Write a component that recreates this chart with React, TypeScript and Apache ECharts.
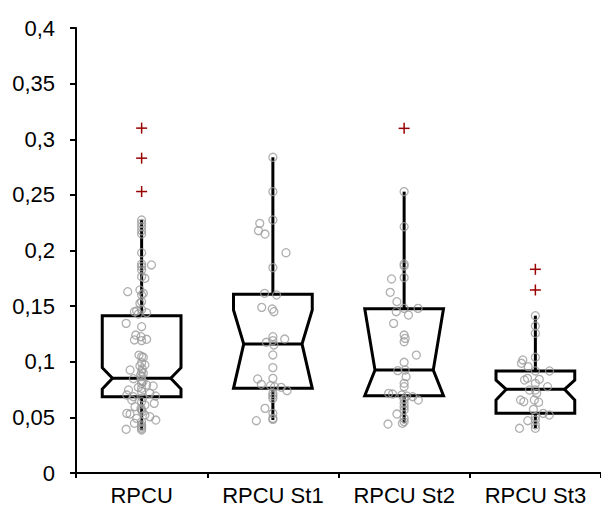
import React, { useEffect, useRef } from "react";
import * as echarts from "echarts";

// Groups on the x axis
const categories = ["RPCU", "RPCU St1", "RPCU St2", "RPCU St3"];

// Notched box statistics per group
const lowWhisker = [0.0387, 0.0476, 0.0447, 0.0402];
const q1 = [0.0686, 0.0761, 0.0695, 0.0537];
const notchLow = [0.0755, 0.0761, 0.0695, 0.0656];
const median = [0.0851, 0.116, 0.0926, 0.0752];
const notchHigh = [0.0946, 0.1465, 0.1477, 0.0836];
const q3 = [0.1414, 0.1606, 0.1477, 0.0917];
const highWhisker = [0.2274, 0.2838, 0.2529, 0.1414];

// Outliers (group index, value)
const outlierGroup = [0, 0, 0, 2, 3, 3];
const outlierValues = [0.31, 0.283, 0.253, 0.3098, 0.1831, 0.1645];

// Individual observations and their horizontal jitter (category units)
const rpcuValues = [
  0.2274, 0.2244, 0.2214, 0.2178, 0.2148, 0.198, 0.1879, 0.1855, 0.187, 0.1825,
  0.1765, 0.175, 0.1645, 0.163, 0.1615, 0.16, 0.154, 0.1525, 0.147, 0.1456,
  0.145, 0.1441, 0.1429, 0.1345, 0.1315, 0.124, 0.1225, 0.1202, 0.1196, 0.119,
  0.106, 0.1046, 0.104, 0.0992, 0.0971, 0.0962, 0.0926, 0.0911, 0.0896, 0.0866,
  0.0848, 0.083, 0.0806, 0.0791, 0.0782, 0.077, 0.0746, 0.0731, 0.0716, 0.0701,
  0.0692, 0.0686, 0.0656, 0.0641, 0.0626, 0.0611, 0.0596, 0.0566, 0.0536, 0.053,
  0.0521, 0.0506, 0.0491, 0.0476, 0.0461, 0.0447, 0.0431, 0.0401, 0.0393, 0.0387,
  0.0936, 0.0881, 0.0821, 0.0761, 0.0676, 0.0581, 0.0551, 0.0416,
];
const rpcuJitter = [
  0, 0, 0, 0, 0, 0, 0, 0, 0.075, 0,
  0, 0.025, -0.013, -0.106, 0.013, 0, 0, -0.013, 0, -0.038,
  -0.055, 0.038, -0.025, -0.118, 0, -0.045, -0.005, 0.038, -0.055, 0,
  -0.02, 0, 0.013, 0, 0.025, -0.013, -0.088, 0, 0.013, 0,
  -0.063, 0, 0, 0.038, 0.088, -0.025, -0.1, 0, 0.063, -0.113,
  0.106, -0.063, -0.075, 0, 0.096, 0.025, -0.05, 0, -0.113, -0.088,
  0.025, 0.063, -0.038, 0.108, 0, -0.055, 0, 0, -0.118, 0,
  0.005, -0.008, 0.01, 0, 0.008, -0.005, 0.005, 0,
];

const st1Values = [
  0.2838, 0.2529, 0.2274, 0.2244, 0.2178, 0.2148, 0.198, 0.1846, 0.1615, 0.16,
  0.1489, 0.1474, 0.145, 0.1225, 0.1204, 0.119, 0.1175, 0.1151, 0.1061, 0.0947,
  0.0851, 0.0845, 0.0797, 0.0785, 0.0776, 0.077, 0.074, 0.0716, 0.0695, 0.0671,
  0.0581, 0.0536, 0.0491, 0.047, 0.0482,
];
const st1Jitter = [
  0, 0, 0, -0.1, -0.11, -0.06, 0.1, 0, -0.063, 0.028,
  -0.085, -0.005, 0.008, 0, 0.09, 0, -0.05, 0.008, 0, 0,
  0, -0.116, -0.088, -0.018, 0.013, 0.063, 0.108, 0, 0, 0,
  -0.06, 0, 0, -0.126, 0,
];

const st2Values = [
  0.2529, 0.2214, 0.1879, 0.1861, 0.1756, 0.1744, 0.1624, 0.154, 0.148, 0.148,
  0.145, 0.142, 0.1345, 0.124, 0.121, 0.118, 0.106, 0.0995, 0.092, 0.0926,
  0.0866, 0.0806, 0.0776, 0.0716, 0.071, 0.0701, 0.0692, 0.0686, 0.0656, 0.0662,
  0.0626, 0.0596, 0.0566, 0.053, 0.0491, 0.0461, 0.044, 0.0447,
];
const st2Jitter = [
  0, 0, 0, 0, 0, -0.096, -0.106, -0.055, 0, 0.106,
  -0.06, 0.033, -0.08, 0, 0.008, 0, 0.093, 0, -0.048, 0.008,
  0.015, 0, 0, -0.118, -0.088, -0.018, 0.02, 0.065, 0.108, 0,
  0, 0, 0, -0.055, 0, 0, -0.123, -0.013,
];

const st3Values = [
  0.1414, 0.1321, 0.1256, 0.104, 0.1016, 0.0986, 0.0956, 0.0917, 0.0917, 0.0851,
  0.0836, 0.0842, 0.0806, 0.0776, 0.0746, 0.0746, 0.0716, 0.0656, 0.0641, 0.0656,
  0.0636, 0.0572, 0.0536, 0.0521, 0.0506, 0.0476, 0.047, 0.0431, 0.0402, 0.0402,
];
const st3Jitter = [
  0, 0, 0, 0, -0.096, -0.106, -0.055, 0, 0.108, -0.06,
  -0.083, 0.03, 0, 0.093, -0.045, 0, 0.01, -0.113, -0.088, -0.008,
  0.025, -0.015, 0.06, 0.106, 0, 0, -0.058, 0, -0.121, 0,
];

const groupValues = [rpcuValues, st1Values, st2Values, st3Values];
const groupJitter = [rpcuJitter, st1Jitter, st2Jitter, st3Jitter];

const FONT = '"Liberation Sans", Arial, sans-serif';

function formatTick(v: number): string {
  return String(Number(v.toFixed(2))).replace(".", ",");
}

export default function App() {
  const ref = useRef<HTMLDivElement>(null);

  useEffect(() => {
    if (!ref.current) return;
    const chart = echarts.init(ref.current, null, { renderer: "svg" });

    const boxData = categories.map((_, i) => [
      i,
      lowWhisker[i],
      q1[i],
      notchLow[i],
      median[i],
      notchHigh[i],
      q3[i],
      highWhisker[i],
    ]);

    const pointData: number[][] = [];
    groupValues.forEach((vals, g) => {
      vals.forEach((v, k) => pointData.push([g + groupJitter[g][k], v]));
    });

    const outlierData = outlierValues.map((v, k) => [outlierGroup[k], v]);

    const option: echarts.EChartsOption = {
      animation: false,
      backgroundColor: "#ffffff",
      grid: { left: 76, top: 28, height: 445, width: 530.5, containLabel: false },
      xAxis: [
        {
          type: "category",
          data: categories,
          boundaryGap: true,
          axisLine: { onZero: false, lineStyle: { color: "#000", width: 2 } },
          axisTick: { show: true, interval: 0, length: 5, lineStyle: { color: "#000", width: 2 } },
          axisLabel: { color: "#000", fontSize: 22, fontFamily: FONT, margin: 11, interval: 0 },
          splitLine: { show: false },
        },
        {
          type: "value",
          min: -0.5,
          max: 3.5,
          show: false,
          axisLine: { show: false, onZero: false },
          splitLine: { show: false },
        },
      ],
      yAxis: {
        type: "value",
        min: 0,
        max: 0.4,
        interval: 0.05,
        axisLine: { show: true, onZero: false, lineStyle: { color: "#000", width: 2 } },
        axisTick: { show: true, length: 6, lineStyle: { color: "#000", width: 2 } },
        axisLabel: {
          color: "#000",
          fontSize: 22,
          fontFamily: FONT,
          margin: 21,
          formatter: (v: number) => formatTick(v),
        },
        splitLine: { show: false },
      },
      series: [
        {
          type: "custom",
          xAxisIndex: 1,
          yAxisIndex: 0,
          z: 2,
          data: boxData,
          renderItem: (params: any, api: any) => {
            const x = api.value(0);
            const halfW = api.size([1, 0])[0] * 0.3;
            const ind = halfW * 2 * 0.13;
            const pt = (v: number) => api.coord([x, v]);
            const cx = pt(0)[0];
            const yLow = pt(api.value(1))[1];
            const yQ1 = pt(api.value(2))[1];
            const yNL = pt(api.value(3))[1];
            const yMed = pt(api.value(4))[1];
            const yNH = pt(api.value(5))[1];
            const yQ3 = pt(api.value(6))[1];
            const yHigh = pt(api.value(7))[1];
            const xl = cx - halfW;
            const xr = cx + halfW;
            return {
              type: "group",
              children: [
                {
                  type: "line",
                  shape: { x1: cx, y1: yQ3, x2: cx, y2: yHigh },
                  style: { stroke: "#000", lineWidth: 3 },
                },
                {
                  type: "line",
                  shape: { x1: cx, y1: yQ1, x2: cx, y2: yLow },
                  style: { stroke: "#000", lineWidth: 3 },
                },
                {
                  type: "polygon",
                  shape: {
                    points: [
                      [xl, yQ3],
                      [xr, yQ3],
                      [xr, yNH],
                      [xr - ind, yMed],
                      [xr, yNL],
                      [xr, yQ1],
                      [xl, yQ1],
                      [xl, yNL],
                      [xl + ind, yMed],
                      [xl, yNH],
                    ],
                  },
                  style: { stroke: "#000", lineWidth: 3, fill: "none", lineJoin: "miter" },
                },
                {
                  type: "line",
                  shape: { x1: xl + ind, y1: yMed, x2: xr - ind, y2: yMed },
                  style: { stroke: "#000", lineWidth: 3 },
                },
              ],
            };
          },
        },
        {
          type: "scatter",
          xAxisIndex: 1,
          yAxisIndex: 0,
          z: 3,
          data: pointData,
          symbol: "circle",
          symbolSize: 8,
          itemStyle: { color: "rgba(0,0,0,0)", borderColor: "#9b9b9b", borderWidth: 1.3 },
        },
        {
          type: "custom",
          xAxisIndex: 1,
          yAxisIndex: 0,
          z: 4,
          data: outlierData,
          renderItem: (params: any, api: any) => {
            const p = api.coord([api.value(0), api.value(1)]);
            const s = 5.5;
            const st = { stroke: "#990000", lineWidth: 1.5 };
            return {
              type: "group",
              children: [
                { type: "line", shape: { x1: p[0] - s, y1: p[1], x2: p[0] + s, y2: p[1] }, style: st },
                { type: "line", shape: { x1: p[0], y1: p[1] - s, x2: p[0], y2: p[1] + s }, style: st },
              ],
            };
          },
        },
      ],
    };

    chart.setOption(option);
    return () => chart.dispose();
  }, []);

  return (
    <div
      ref={ref}
      style={{ position: "fixed", left: 0, top: 0, width: 601, height: 513, background: "#fff" }}
    />
  );
}
